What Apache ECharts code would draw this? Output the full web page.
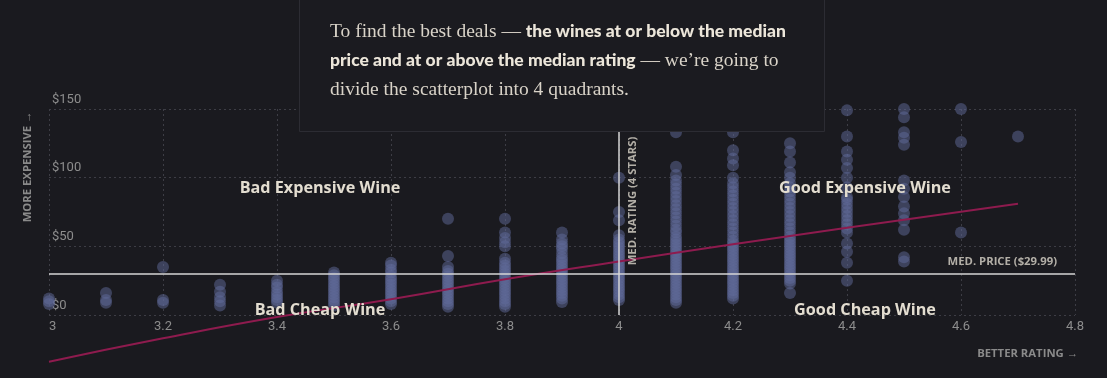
<!DOCTYPE html>
<html>
<head>
<meta charset="utf-8">
<script src="https://cdn.jsdelivr.net/npm/echarts@6/dist/echarts.min.js"></script>
<style>
html,body{margin:0;padding:0;background:#1a1a1f;}
#c{width:1107px;height:378px;}
</style>
</head>
<body>
<div id="c"></div>
<script>
// ---- data (rating -> list of prices) ----
const xTicks = [3, 3.2, 3.4, 3.6, 3.8, 4, 4.2, 4.4, 4.6, 4.8];
const yTicks = [0, 50, 100, 150];
const ratings = [3.0, 3.1, 3.2, 3.3, 3.4, 3.5, 3.6, 3.7, 3.8, 3.9, 4.0, 4.1, 4.2, 4.3, 4.4, 4.5, 4.6, 4.7];
const p30 = [8, 10, 12];
const p31 = [9, 11, 16];
const p32 = [9, 11, 35];
const p33 = [7, 10, 13, 17, 22];
const p34 = [9, 11, 13, 15, 17, 20, 22, 25];
const p35 = [7, 9, 11, 13, 15, 17, 19, 21, 23, 25, 27, 29, 31];
const p36 = [8, 10, 12, 14, 16, 18, 20, 22, 24, 26, 28, 31, 33, 36, 38];
const p37 = [6, 8, 10, 12, 14, 16, 18, 20, 22, 24, 26, 28, 30, 32, 35, 43, 70];
const p38 = [6, 8, 10, 12, 14, 16, 18, 20, 22, 24, 26, 28, 30, 32, 34, 36, 38, 41, 50, 53, 56, 60, 70];
const p39 = [9.5, 12, 14, 16, 18, 20, 22, 24, 26, 28, 30, 32, 34, 36, 38, 40, 42, 45, 48, 50, 52, 55, 60];
const p40 = [11, 13, 15, 17, 19, 21, 23, 25, 27, 29, 31, 33, 35, 37, 39, 41, 43, 45, 47, 49, 51, 53, 55, 58, 69, 75, 100];
const p41 = [9, 11, 13, 15, 17, 19, 21, 23, 25, 27, 29, 31, 33, 35, 37, 39, 41, 43, 45, 47, 49, 51, 53, 55, 57, 60, 62, 65, 68, 71, 74, 77, 80, 83, 86, 89, 92, 95, 98, 102, 108, 133, 142, 150];
const p42 = [12, 14, 16, 18, 20, 22, 24, 26, 28, 30, 32, 34, 36, 38, 40, 42, 44, 46, 48, 50, 52, 54, 57, 60, 63, 66, 69, 72, 75, 78, 81, 84, 87, 90, 93, 96, 100, 109, 114, 120, 133, 142, 150];
const p43 = [16, 23, 25, 27, 29, 31, 33, 35, 37, 39, 41, 43, 45, 47, 49, 51, 53, 55, 57, 60, 63, 66, 69, 72, 75, 78, 81, 84, 87, 90, 93, 96, 100, 104, 111, 119, 125];
const p44 = [25, 38, 46, 52, 60, 63, 66, 69, 72, 75, 78, 81, 84, 86, 93, 100, 107, 113, 119, 130, 149];
const p45 = [39, 42, 62, 69, 74, 79, 86, 92, 98, 124, 129, 133, 144, 150];
const p46 = [60, 126, 150];
const p47 = [130];
const pricesByRating = [p30, p31, p32, p33, p34, p35, p36, p37, p38, p39, p40, p41, p42, p43, p44, p45, p46, p47];
// trend line
const trendX = [3.0, 3.2, 3.4, 3.6, 3.8, 4.0, 4.2, 4.4, 4.7];
const trendY = [-34, -17, -1.5, 11.5, 26, 39, 51.5, 63.5, 81];
const medianRating = 4;
const medianPrice = 29.99;

const points = [];
ratings.forEach((r, i) => pricesByRating[i].forEach(p => points.push([r, p])));
const trend = trendX.map((x, i) => [x, trendY[i]]);

const chart = echarts.init(document.getElementById('c'));
const gridColor = '#3d3d45';
const labelColor = '#8d8d8d';
const creamy = '#e3ddd0';
const quadFont = {fontFamily: 'Open Sans', fontWeight: 'bold', fontSize: 16.2, fill: creamy};
const capsFont = {fontFamily: 'Open Sans', fontWeight: 'bold', fontSize: 11.3};

chart.setOption({
  backgroundColor: '#1a1a1f',
  animation: false,
  grid: {left: 49, right: 32, top: 109, bottom: 63},
  xAxis: {
    type: 'value', min: 3, max: 4.8, interval: 0.2,
    axisLine: {show: false}, axisTick: {show: false},
    splitLine: {show: true, lineStyle: {color: gridColor, type: [2, 3], width: 1}},
    axisLabel: {color: labelColor, fontFamily: 'Roboto', fontSize: 13, margin: 5,
      alignMinLabel: 'left',
      formatter: v => String(+v.toFixed(1))}
  },
  yAxis: {
    type: 'value', min: 0, max: 150, interval: 50,
    axisLine: {show: false}, axisTick: {show: false},
    splitLine: {show: true, lineStyle: {color: gridColor, type: [2, 3], width: 1}},
    axisLabel: {inside: true, margin: 3, color: labelColor, fontFamily: 'Roboto', fontSize: 13,
      verticalAlign: 'bottom', padding: [0, 0, 3, 0],
      formatter: v => '$' + v}
  },
  series: [
    {
      type: 'scatter', data: points, symbolSize: 12, clip: false, z: 2,
      itemStyle: {color: '#5f6a9a', opacity: 0.5},
      markLine: {
        silent: true, symbol: 'none', label: {show: false},
        lineStyle: {color: '#d6d6d6', width: 1.5, type: 'solid'},
        data: [{xAxis: medianRating}, {yAxis: medianPrice}]
      }
    },
    {
      type: 'line', data: trend, smooth: true, showSymbol: false, clip: false, z: 3,
      lineStyle: {color: '#8e1b4e', width: 2}
    }
  ],
  graphic: [
    {type: 'rect', z: 50, shape: {x: 299.5, y: -2, width: 525, height: 133.5},
      style: {fill: '#1b1b20', stroke: '#2c2c33', lineWidth: 1}},
    {type: 'text', z: 51, x: 330, y: 17,
      style: {
        text: 'To find the best deals — {b|the wines at or below the median}\n{b|price and at or above the median rating} — we’re going to\ndivide the scatterplot into 4 quadrants.',
        fontFamily: 'Liberation Serif', fontSize: 19.5, fill: '#d9d3c8', lineHeight: 29,
        rich: {b: {fontFamily: 'Lato', fontWeight: 900, fontSize: 17.5, fill: '#ece6da', lineHeight: 29}}
      }},
    {type: 'text', z: 40, x: 320, y: 188, style: Object.assign({text: 'Bad Expensive Wine', textAlign: 'center', textVerticalAlign: 'middle'}, quadFont)},
    {type: 'text', z: 40, x: 865, y: 188, style: Object.assign({text: 'Good Expensive Wine', textAlign: 'center', textVerticalAlign: 'middle'}, quadFont)},
    {type: 'text', z: 40, x: 320, y: 310, style: Object.assign({text: 'Bad Cheap Wine', textAlign: 'center', textVerticalAlign: 'middle'}, quadFont)},
    {type: 'text', z: 40, x: 865, y: 310, style: Object.assign({text: 'Good Cheap Wine', textAlign: 'center', textVerticalAlign: 'middle'}, quadFont)},
    {type: 'text', z: 40, x: 633, y: 201, rotation: Math.PI / 2,
      style: Object.assign({text: 'MED. RATING (4 STARS)', textAlign: 'center', textVerticalAlign: 'middle', fill: '#b3afa7'}, capsFont)},
    {type: 'text', z: 40, x: 1057, y: 262,
      style: Object.assign({text: 'MED. PRICE ($29.99)', textAlign: 'right', textVerticalAlign: 'middle', fill: '#b3afa7'}, capsFont)},
    {type: 'text', z: 40, x: 28, y: 167, rotation: Math.PI / 2,
      style: Object.assign({text: 'MORE EXPENSIVE →', textAlign: 'center', textVerticalAlign: 'middle', fill: '#8a8a8a'}, capsFont)},
    {type: 'text', z: 40, x: 1078, y: 354,
      style: Object.assign({text: 'BETTER RATING →', textAlign: 'right', textVerticalAlign: 'middle', fill: '#8a8a8a'}, capsFont)}
  ]
});
</script>
</body>
</html>
